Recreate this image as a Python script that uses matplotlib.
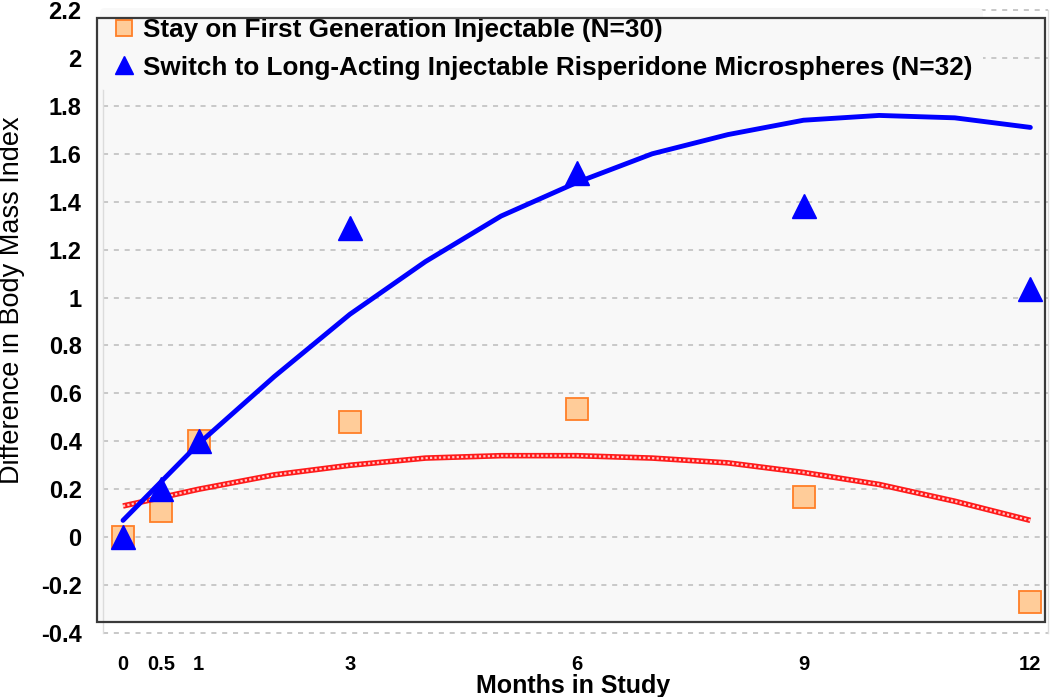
import numpy as np
import matplotlib
matplotlib.use("Agg")
import matplotlib.pyplot as plt
from matplotlib.patches import Rectangle
from matplotlib.lines import Line2D

# ---------------------------------------------------------------------------
# Data
# ---------------------------------------------------------------------------
months = [0, 0.5, 1, 3, 6, 9, 12]
fga_bmi = [0.0, 0.11, 0.40, 0.48, 0.535, 0.167, -0.27]      # stay on first-generation
lai_bmi = [0.0, 0.20, 0.40, 1.29, 1.52, 1.38, 1.035]         # switch to LAI risperidone

fit_months = [0, 1, 2, 3, 4, 5, 6, 7, 8, 9, 10, 11, 12]
fga_fit = [0.13, 0.20, 0.26, 0.30, 0.33, 0.34, 0.34, 0.33, 0.31, 0.27, 0.22, 0.15, 0.07]
lai_fit = [0.07, 0.39, 0.67, 0.93, 1.15, 1.34, 1.48, 1.60, 1.68, 1.74, 1.76, 1.75, 1.71]

yticks = [-0.4, -0.2, 0, 0.2, 0.4, 0.6, 0.8, 1, 1.2, 1.4, 1.6, 1.8, 2, 2.2]
xtick_labels = ["0", "0.5", "1", "3", "6", "9", "12"]

LABEL_FGA = "Stay on First Generation Injectable (N=30)"
LABEL_LAI = "Switch to Long-Acting Injectable Risperidone Microspheres (N=32)"

# ---------------------------------------------------------------------------
# Style
# ---------------------------------------------------------------------------
plt.rcParams["font.family"] = ["Liberation Sans", "DejaVu Sans"]

PANEL = "#f8f8f8"
GRID = "#c4c4c4"
C_SQ_FILL = "#ffcc99"
C_SQ_EDGE = "#ff7f27"
C_BLUE = "#0000ff"
C_RED = "#ff1a1a"

XMIN, XMAX = -0.344, 12.26
FRAME_X = (-0.344, 12.196)
FRAME_Y = (-0.355, 2.167)
GRID_X = (-0.265, 12.235)

fig = plt.figure(figsize=(10.5, 6.97), dpi=100, facecolor="white")
ax = fig.add_axes([97 / 1050, 64 / 697, 953 / 1050, 623 / 697])
ax.set_facecolor("none")
for s in ax.spines.values():
    s.set_visible(False)

ax.set_xlim(XMIN, XMAX)
ax.set_ylim(-0.4, 2.2)

# panel + frame
ax.add_patch(Rectangle((FRAME_X[0], FRAME_Y[0]), FRAME_X[1] - FRAME_X[0],
                       FRAME_Y[1] - FRAME_Y[0], facecolor=PANEL,
                       edgecolor="none", zorder=0, clip_on=False))
ax.add_patch(Rectangle((FRAME_X[0], FRAME_Y[0]), FRAME_X[1] - FRAME_X[0],
                       FRAME_Y[1] - FRAME_Y[0], facecolor="none",
                       edgecolor="#3a3a3a", linewidth=1.6, zorder=7, clip_on=False))

# dashed grid
ax.hlines(yticks, GRID_X[0], GRID_X[1], colors=GRID, linewidth=1.3,
          linestyles=(0, (2.8, 3.2)), zorder=1, clip_on=False)
for gx in GRID_X:
    ax.axvline(gx, color="#dcdcdc", linewidth=1.0, zorder=1, clip_on=False)

# data
ax.plot(months, fga_bmi, linestyle="none", marker="s", markersize=15.5,
        markerfacecolor=C_SQ_FILL, markeredgecolor=C_SQ_EDGE,
        markeredgewidth=1.3, zorder=3)
ax.plot(fit_months, fga_fit, color=C_RED, linewidth=4, zorder=4,
        solid_capstyle="butt")
ax.plot(fit_months, fga_fit, color="white", linewidth=1.6, alpha=0.75,
        linestyle=(0, (1, 1)), zorder=4)
ax.plot(fit_months, lai_fit, color=C_BLUE, linewidth=3.5, zorder=5,
        solid_capstyle="round")
ax.plot(months, lai_bmi, linestyle="none", marker="^", markersize=17,
        markerfacecolor=C_BLUE, markeredgecolor=C_BLUE, zorder=6)

# ticks
ax.set_yticks(yticks)
ax.set_yticklabels([f"{v:g}" for v in yticks], fontsize=17, fontweight="bold")
ax.set_xticks(months)
ax.set_xticklabels(xtick_labels, fontsize=14.5, fontweight="bold")
ax.tick_params(axis="y", length=0, pad=11)
ax.tick_params(axis="x", length=0, pad=16)

fig.text(573 / 1050, 1 - 686 / 697, "Months in Study", ha="center",
         va="center", fontsize=18, fontweight="bold")
fig.text(12 / 1050, 1 - 300 / 697, "Difference in Body Mass Index",
         rotation=90, ha="center", va="center", fontsize=19.5)

# legend (axes legend so the frame edge stays on top of it)
handles = [
    Line2D([0], [0], linestyle="none", marker="s", markersize=12,
           markerfacecolor=C_SQ_FILL, markeredgecolor=C_SQ_EDGE,
           markeredgewidth=1.3, label=LABEL_FGA),
    Line2D([0], [0], linestyle="none", marker="^", markersize=13,
           markerfacecolor=C_BLUE, markeredgecolor=C_BLUE, label=LABEL_LAI),
]
leg = ax.legend(handles=handles, loc="upper left",
                bbox_to_anchor=(100 / 1050, 1 - 8 / 697),
                bbox_transform=fig.transFigure,
                prop={"size": 18.8, "weight": "bold"}, frameon=True,
                facecolor=PANEL, edgecolor="none", framealpha=1,
                handlelength=1.0, handletextpad=0.25, labelspacing=0.5,
                borderpad=0.4, borderaxespad=0)
leg.set_zorder(5)

fig.savefig("out.png", dpi=100, facecolor="white")
